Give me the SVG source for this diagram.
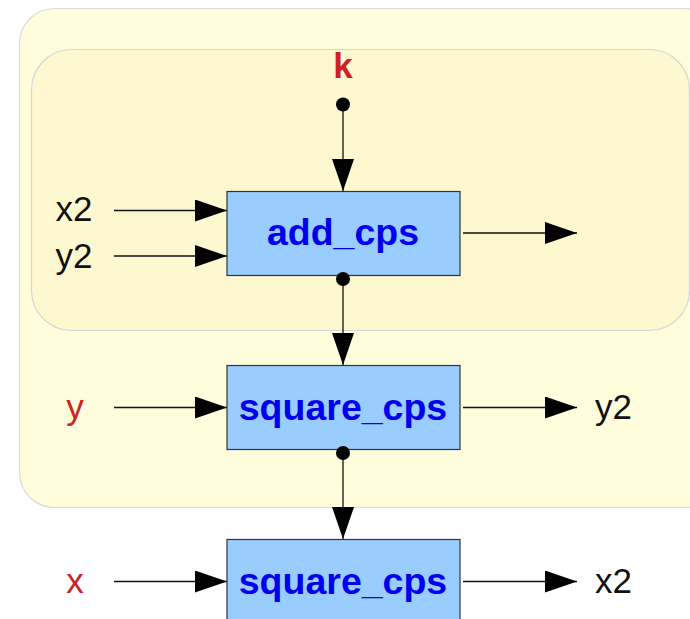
<svg xmlns="http://www.w3.org/2000/svg" width="690" height="619" viewBox="0 0 690 619">
  <style>
    .box { fill: #99ccff; stroke: #333333; stroke-width: 1.2; }
    .boxtext { font-family: "Liberation Sans", Arial, sans-serif; font-weight: bold; font-size: 37.5px; fill: #0000ee; text-anchor: middle; }
    .lbl { font-family: "Liberation Sans", Arial, sans-serif; font-size: 35px; fill: #111111; }
    .red { fill: #cc2222; }
    .conn { stroke: #111111; stroke-width: 1.3; fill: none; marker-end: url(#ah); }
    .dot { fill: #000000; }
  </style>
  <defs>
    <marker id="ah" markerUnits="userSpaceOnUse" markerWidth="33" markerHeight="23" refX="32" refY="11" orient="auto">
      <path d="M0,0 L32,11 L0,22 z" fill="#000000"/>
    </marker>
  </defs>

  <g id="outer-cluster">
    <rect x="19.5" y="8.5" width="700" height="499" rx="35" ry="35" fill="#fffddc" stroke="#d9d9d9" stroke-width="1.2"/>
  </g>
  <g id="inner-cluster">
    <rect x="31.5" y="49.5" width="658" height="281" rx="40" ry="40" fill="#fdf8cf" stroke="#d6d6d6" stroke-width="1.2"/>
  </g>

  <g id="connectors">
    <line class="conn" x1="343" y1="104" x2="343" y2="191"/>
    <line class="conn" x1="114" y1="210.5" x2="227" y2="210.5"/>
    <line class="conn" x1="114" y1="256" x2="227" y2="256"/>
    <line class="conn" x1="463" y1="233" x2="577" y2="233"/>
    <line class="conn" x1="343" y1="279" x2="343" y2="365"/>
    <line class="conn" x1="114" y1="407.5" x2="227" y2="407.5"/>
    <line class="conn" x1="463" y1="407.5" x2="577" y2="407.5"/>
    <line class="conn" x1="343" y1="453" x2="343" y2="539"/>
    <line class="conn" x1="114" y1="581.5" x2="227" y2="581.5"/>
    <line class="conn" x1="463" y1="581.5" x2="577" y2="581.5"/>
  </g>

  <g id="k">
    <text class="boxtext red" x="343" y="78" style="font-size:35px">k</text>
    <circle class="dot" cx="343" cy="104.5" r="7"/>
  </g>

  <g id="add_cps">
    <rect class="box" x="227" y="191.5" width="233" height="84"/>
    <text class="boxtext" x="343" y="245">add_cps</text>
    <circle class="dot" cx="343" cy="279" r="7"/>
  </g>

  <g id="square_cps_y">
    <rect class="box" x="227" y="365.5" width="233" height="84"/>
    <text class="boxtext" x="343" y="419.5">square_cps</text>
    <circle class="dot" cx="343" cy="453" r="7"/>
  </g>

  <g id="square_cps_x">
    <rect class="box" x="227" y="539.5" width="233" height="84"/>
    <text class="boxtext" x="343" y="593.5">square_cps</text>
  </g>

  <g id="labels">
    <text class="lbl" x="74" y="221" text-anchor="middle">x2</text>
    <text class="lbl" x="74" y="267.5" text-anchor="middle">y2</text>
    <text class="lbl red" x="75" y="419" text-anchor="middle">y</text>
    <text class="lbl" x="595" y="419">y2</text>
    <text class="lbl red" x="75" y="593" text-anchor="middle">x</text>
    <text class="lbl" x="595" y="593">x2</text>
  </g>
</svg>
